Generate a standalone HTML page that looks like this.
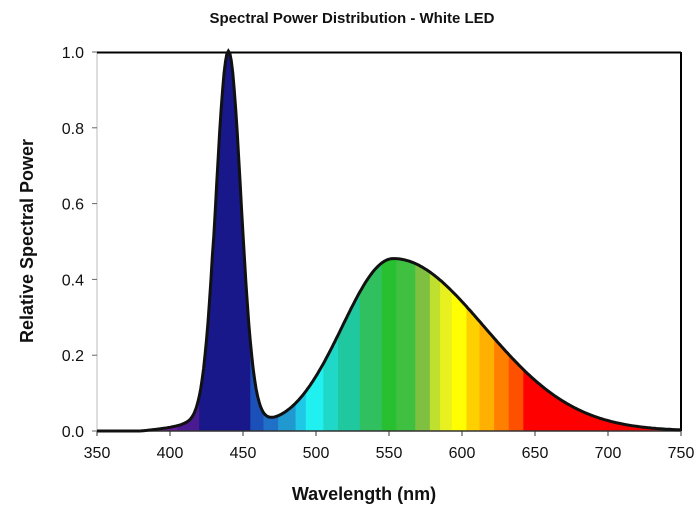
<!DOCTYPE html>
<html><head><meta charset="utf-8"><style>
html,body{margin:0;padding:0;background:#fff;width:700px;height:520px;overflow:hidden}
svg text{font-family:"Liberation Sans",sans-serif;fill:#111}
</style></head><body>
<svg id="s" width="700" height="520" xmlns="http://www.w3.org/2000/svg">
<text x="352" y="23" font-size="15" font-weight="bold" text-anchor="middle">Spectral Power Distribution - White LED</text>
<defs><clipPath id="cp"><path id="cpath" d=""/></clipPath></defs>
<g id="bands" clip-path="url(#cp)"></g>
<line x1="97" y1="52" x2="97" y2="431" stroke="#bbb" stroke-width="1"/>
<line x1="97" y1="52.5" x2="681" y2="52.5" stroke="#000" stroke-width="2"/>
<line x1="681" y1="52" x2="681" y2="431" stroke="#000" stroke-width="2"/>
<line x1="97" y1="431" x2="681" y2="431" stroke="#333" stroke-width="1.5"/>
<path id="curve" d="" fill="none" stroke="#111" stroke-width="3"/>
<g id="ticks"></g>
<text x="364" y="500" font-size="18" font-weight="bold" text-anchor="middle">Wavelength (nm)</text>
<text transform="translate(33,241) rotate(-90)" font-size="18" font-weight="bold" text-anchor="middle">Relative Spectral Power</text>
</svg>
<script>
var X=function(w){return 97+(w-350)*584/400},Y=function(v){return 431-v*379};
function f(w){var b=0.96*Math.exp(-Math.pow(w-440,2)/(2*8.5*8.5))+0.04*Math.exp(-Math.pow(w-440,2)/(2*16*16));var s=w<553?35:62;var p=0.455*Math.exp(-Math.pow(w-553,2)/(2*s*s));var t=w>380?0.012*Math.min(1,(w-380)/30):0;return b+p+(w<430?t:0);}
var d="",c="M"+X(380)+","+Y(0);
for(var w=380;w<=750;w+=1){var v=f(w);d+=(w==380?"M":"L")+X(w).toFixed(1)+","+Y(v).toFixed(1);c+="L"+X(w).toFixed(1)+","+Y(v).toFixed(1);}
c+="L"+X(750)+","+Y(0)+"Z";
document.getElementById("curve").setAttribute("d",d+"M97,431L"+X(380)+",431");
document.getElementById("cpath").setAttribute("d",c);
var B=[[380,405,"#6a1a9a"],[405,420,"#4a1a90"],[420,455,"#18188a"],[455,464,"#1a50b8"],[464,474,"#2070c8"],[474,486,"#2098d0"],[486,493,"#20c8e8"],[493,505,"#20f0f0"],[505,515,"#20d8c8"],[515,530,"#20c8a0"],[530,545,"#30c060"],[545,555,"#28c030"],[555,568,"#40c040"],[568,578,"#80c040"],[578,585,"#c0e030"],[585,593,"#e8f020"],[593,603,"#ffff00"],[603,612,"#ffd000"],[612,622,"#ffb000"],[622,632,"#ff8000"],[632,642,"#ff5000"],[642,751,"#ff0000"]];
var g=document.getElementById("bands"),h="";
B.forEach(function(b){h+='<rect x="'+X(b[0])+'" y="40" width="'+(X(b[1])-X(b[0])+0.5)+'" height="400" fill="'+b[2]+'"/>';});
g.innerHTML=h;
var t="";
for(var i=0;i<=8;i++){var w=350+i*50,x=X(w);t+='<line x1="'+x+'" y1="431" x2="'+x+'" y2="436" stroke="#333"/><text x="'+x+'" y="458" font-size="16" text-anchor="middle">'+w+'</text>';}
for(var j=0;j<=5;j++){var y=Y(j*0.2);t+='<line x1="92" y1="'+y+'" x2="97" y2="'+y+'" stroke="#666"/><text x="84" y="'+(y+6)+'" font-size="16" text-anchor="end">'+(j*0.2).toFixed(1)+'</text>';}
document.getElementById("ticks").innerHTML=t;
</script>
</body></html>
